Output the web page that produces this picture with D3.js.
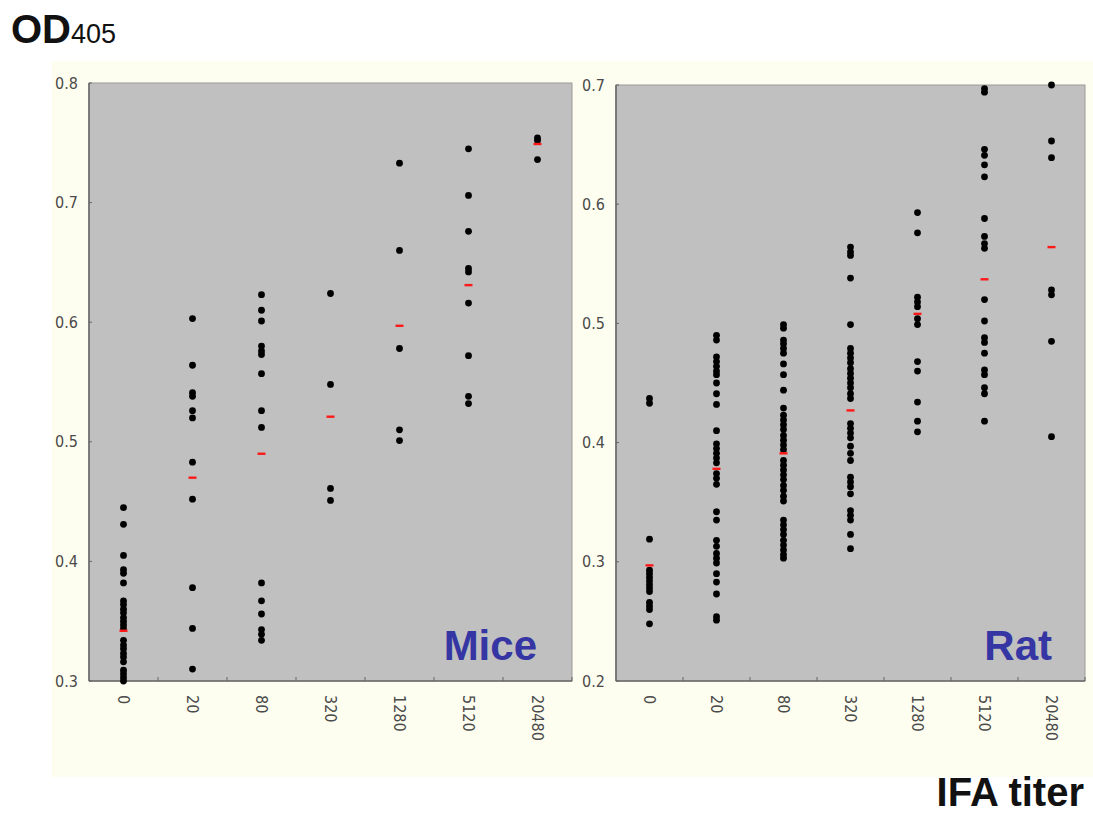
<!DOCTYPE html>
<html>
<head>
<meta charset="utf-8">
<script src="https://cdn.jsdelivr.net/npm/d3@7"></script>
<style>
    html, body { margin: 0; padding: 0; background: #fff; }
    #root { width: 1093px; height: 816px; }
</style>
</head>
<body>
<div id="root"></div>
<script>
const width = 1093;
const height = 816;

// IFA titer categories (x axis)
const titers = ['0', '20', '80', '320', '1280', '5120', '20480'];

// OD405 readings per titer, mice
const miceValues = [
    [0.445, 0.431, 0.405, 0.393, 0.390, 0.382, 0.367, 0.364, 0.360, 0.357, 0.353, 0.350, 0.347,
        0.344, 0.334, 0.330, 0.327, 0.323, 0.320, 0.316, 0.309, 0.306, 0.303, 0.300],
    [0.603, 0.564, 0.541, 0.538, 0.526, 0.520, 0.483, 0.452, 0.378, 0.344, 0.310],
    [0.623, 0.610, 0.601, 0.580, 0.576, 0.573, 0.557, 0.526, 0.512, 0.382, 0.367, 0.356, 0.343, 0.339, 0.334],
    [0.624, 0.548, 0.461, 0.451],
    [0.733, 0.660, 0.578, 0.510, 0.501],
    [0.745, 0.706, 0.676, 0.645, 0.642, 0.616, 0.572, 0.538, 0.532],
    [0.754, 0.752, 0.736]
];
const miceMeans = [0.342, 0.470, 0.490, 0.521, 0.597, 0.631, 0.749];

// OD405 readings per titer, rat
const ratValues = [
    [0.437, 0.433, 0.319, 0.293, 0.290, 0.287, 0.284, 0.281, 0.278, 0.275, 0.266, 0.263, 0.260, 0.248],
    [0.490, 0.486, 0.472, 0.468, 0.464, 0.460, 0.457, 0.450, 0.441, 0.432, 0.410, 0.399, 0.395, 0.391,
        0.387, 0.383, 0.374, 0.370, 0.365, 0.342, 0.335, 0.318, 0.313, 0.307, 0.303, 0.299, 0.290,
        0.283, 0.273, 0.254, 0.251],
    [0.499, 0.496, 0.486, 0.483, 0.479, 0.475, 0.466, 0.457, 0.444, 0.429, 0.423, 0.419, 0.415, 0.411,
        0.406, 0.402, 0.398, 0.394, 0.385, 0.381, 0.377, 0.373, 0.369, 0.364, 0.360, 0.355, 0.351,
        0.335, 0.331, 0.327, 0.323, 0.318, 0.314, 0.310, 0.306, 0.303],
    [0.564, 0.560, 0.557, 0.538, 0.499, 0.479, 0.475, 0.471, 0.467, 0.462, 0.458, 0.454, 0.450, 0.446,
        0.441, 0.437, 0.416, 0.412, 0.408, 0.404, 0.397, 0.391, 0.385, 0.371, 0.367, 0.363, 0.357,
        0.343, 0.339, 0.335, 0.323, 0.311],
    [0.593, 0.576, 0.522, 0.518, 0.514, 0.504, 0.499, 0.468, 0.460, 0.434, 0.418, 0.409],
    [0.697, 0.694, 0.646, 0.641, 0.633, 0.623, 0.588, 0.573, 0.567, 0.563, 0.520, 0.502, 0.488, 0.484,
        0.475, 0.461, 0.457, 0.446, 0.441, 0.418],
    [0.700, 0.653, 0.639, 0.528, 0.524, 0.485, 0.405]
];
const ratMeans = [0.297, 0.378, 0.391, 0.427, 0.508, 0.537, 0.564];

const yTicksMice = [0.3, 0.4, 0.5, 0.6, 0.7, 0.8];
const yTicksRat = [0.2, 0.3, 0.4, 0.5, 0.6, 0.7];

const tickFont = '"Liberation Sans Narrow", "DejaVu Sans Condensed", sans-serif';
const boldFont = '"Liberation Sans", Arial, sans-serif';

const svg = d3.select('#root')
    .append('svg')
    .attr('width', width)
    .attr('height', height);

// cream backdrop behind both panels
svg.append('rect')
    .attr('x', 52)
    .attr('y', 61)
    .attr('width', 1041)
    .attr('height', 716)
    .attr('fill', '#fefef0');

const drawPanel = (opts) => {
    const x = d3.scaleBand().domain(titers).range([opts.left, opts.right]);
    const y = d3.scaleLinear().domain(opts.domain).range([opts.bottom, opts.top]);
    const g = svg.append('g');

    g.append('rect')
        .attr('x', opts.left)
        .attr('y', opts.top)
        .attr('width', opts.right - opts.left)
        .attr('height', opts.bottom - opts.top)
        .attr('fill', '#c0c0c0')
        .attr('stroke', '#9a9a9a')
        .attr('stroke-width', 1);

    // axis lines, left and bottom
    g.append('line')
        .attr('x1', opts.left).attr('x2', opts.left)
        .attr('y1', opts.top).attr('y2', opts.bottom)
        .attr('stroke', '#6a6a6a').attr('stroke-width', 1.6);
    g.append('line')
        .attr('x1', opts.left).attr('x2', opts.right)
        .attr('y1', opts.bottom).attr('y2', opts.bottom)
        .attr('stroke', '#6a6a6a').attr('stroke-width', 1.6);

    // y ticks + labels
    g.selectAll('.ytick')
        .data(opts.yTicks)
        .join('line')
        .attr('x1', opts.left).attr('x2', opts.left + 3)
        .attr('y1', d => y(d)).attr('y2', d => y(d))
        .attr('stroke', '#666');
    g.selectAll('.ylab')
        .data(opts.yTicks)
        .join('text')
        .attr('x', opts.left - 11)
        .attr('y', d => y(d))
        .attr('dy', '0.35em')
        .attr('text-anchor', 'end')
        .attr('font-family', tickFont)
        .attr('font-size', 16)
        .attr('fill', '#4a4a4a')
        .text(d => d3.format('.1f')(d));

    // x ticks at band boundaries
    g.selectAll('.xtick')
        .data(titers.slice(1).concat(['end']))
        .join('line')
        .attr('x1', d => d === 'end' ? opts.right : x(d))
        .attr('x2', d => d === 'end' ? opts.right : x(d))
        .attr('y1', opts.bottom).attr('y2', opts.bottom - 4)
        .attr('stroke', '#666');
    g.selectAll('.xlab')
        .data(titers)
        .join('text')
        .attr('transform', d => `translate(${x(d) + x.bandwidth() / 2},${opts.bottom + 14}) rotate(90)`)
        .attr('dy', '0.35em')
        .attr('font-family', tickFont)
        .attr('font-size', 16)
        .attr('fill', '#4a4a4a')
        .text(d => d);

    // points
    const points = [];
    opts.values.forEach((vals, i) => vals.forEach(v => points.push({t: titers[i], v})));
    g.selectAll('.dot')
        .data(points)
        .join('circle')
        .attr('cx', d => x(d.t) + x.bandwidth() / 2)
        .attr('cy', d => y(d.v))
        .attr('r', 3.4)
        .attr('fill', '#000');

    // red mean markers
    g.selectAll('.mean')
        .data(opts.means)
        .join('rect')
        .attr('x', (d, i) => x(titers[i]) + x.bandwidth() / 2 - 4)
        .attr('y', d => y(d) - 1.2)
        .attr('width', 8)
        .attr('height', 2.4)
        .attr('fill', '#ff1a1a');

    g.append('text')
        .attr('x', opts.labelX)
        .attr('y', 660)
        .attr('text-anchor', 'end')
        .attr('font-family', boldFont)
        .attr('font-weight', 'bold')
        .attr('font-size', 42)
        .attr('fill', '#3535a3')
        .text(opts.label);
};

drawPanel({
    left: 89, right: 572, top: 83, bottom: 681,
    domain: [0.3, 0.8], yTicks: yTicksMice,
    values: miceValues, means: miceMeans,
    label: 'Mice', labelX: 537
});

drawPanel({
    left: 616, right: 1085, top: 85, bottom: 681,
    domain: [0.2, 0.7], yTicks: yTicksRat,
    values: ratValues, means: ratMeans,
    label: 'Rat', labelX: 1052
});

// axis titles
const od = svg.append('text')
    .attr('x', 11)
    .attr('y', 43)
    .attr('font-family', boldFont)
    .attr('fill', '#111');
od.append('tspan')
    .attr('font-weight', 'bold')
    .attr('font-size', 40)
    .text('OD');
od.append('tspan')
    .attr('font-size', 27)
    .text('405');

svg.append('text')
    .attr('x', 1084)
    .attr('y', 806)
    .attr('text-anchor', 'end')
    .attr('font-family', boldFont)
    .attr('font-weight', 'bold')
    .attr('font-size', 40)
    .attr('fill', '#111')
    .text('IFA titer');
</script>
</body>
</html>
